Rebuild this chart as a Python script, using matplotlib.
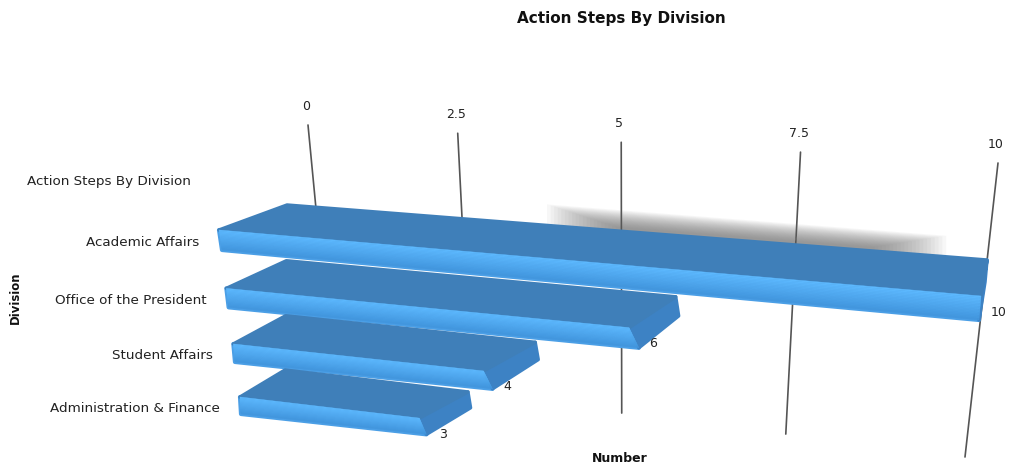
import numpy as np
import matplotlib
matplotlib.use("Agg")
import matplotlib.pyplot as plt
from matplotlib.patches import Polygon

title = "Action Steps By Division"
x_label = "Number"
y_label = "Division"
categories = ["Academic Affairs", "Office of the President", "Student Affairs", "Administration & Finance"]
values = [10, 6, 4, 3]
empty_category = "Action Steps By Division"
ticks = [0, 2.5, 5, 7.5, 10]
tick_labels = ["0", "2.5", "5", "7.5", "10"]
grid_visible_to = [0.40, 0.35, 1, 1, 1]

FONT = "DejaVu Sans"
W, H = 1009, 466


def homography(dst, src=((0, 0), (10, 0), (0, 3), (10, 3))):
    A, b = [], []
    for (u, v), (x, y) in zip(src, dst):
        A.append([u, v, 1, 0, 0, 0, -u * x, -v * x]); b.append(x)
        A.append([0, 0, 0, u, v, 1, -u * y, -v * y]); b.append(y)
    h = np.linalg.solve(np.array(A, float), np.array(b, float))
    M = np.append(h, 1).reshape(3, 3)

    def project(u, v):
        p = M @ np.array([u, v, 1.0])
        return np.array([p[0] / p[2], p[1] / p[2]])
    return project


def depth(v, b=-0.0098):
    """Extra perspective foreshortening along the value axis of the near edge."""
    return (1 + 10 * b) * v / (1 + b * v)


# camera planes of the pseudo-3D scene (value, row) -> pixels
back_top = homography(((287, 205), (987, 260), (285, 370), (968, 452)))
back_bot = homography(((287, 224), (985, 282), (285, 386), (966, 466)))
_front_top = homography(((219, 230), (981, 296), (240, 397), (945, 480)))
_front_bot = homography(((222, 250), (979, 320), (241, 414), (942, 491)))
front_top = lambda v, r: _front_top(depth(v), r)
front_bot = lambda v, r: _front_bot(depth(v), r)
grid = homography(((308, 125), (998, 163), (332, 376), (965, 457)),
                  src=((0, 0), (10, 0), (0, 1), (10, 1)))

fig = plt.figure(figsize=(W / 100, H / 100), dpi=100)
ax = fig.add_axes([0, 0, 1, 1])
ax.set_xlim(0, W)
ax.set_ylim(H, 0)
ax.axis("off")

# grid lines and tick labels
for t, lab, vis in zip(ticks, tick_labels, grid_visible_to):
    a, b = grid(t, 0), grid(t, vis)
    ax.plot([a[0], b[0]], [a[1], b[1]], color="#555555", lw=1.2, zorder=1,
            solid_capstyle="round")
    ax.text(a[0] - 2, a[1] - 19, lab, ha="center", va="center", fontsize=9,
            family=FONT, color="#222222", zorder=5)

# soft shadow behind the longest bar
n_sh = 20
for i in range(n_sh):
    f = i / (n_sh - 1)
    v0, v1 = 4.1 + 1.0 * f, 9.5 - 0.9 * f
    up = -21 + 17 * f
    a = back_top(v0, 0) + np.array([0, up])
    b = back_top(v1, 0) + np.array([0, up])
    c = back_top(v1, 0) + np.array([0, 12])
    d = back_top(v0, 0) + np.array([0, 12])
    ax.add_patch(Polygon([a, b, c, d], closed=True, fc="#6a6a6a", ec="none", alpha=0.05, zorder=2))

# bars, back to front
for r, (cat, val) in enumerate(zip(categories, values)):
    z = 3 + r * 0.1
    tl, tr = back_top(0, r), back_top(val, r)
    fl, fr = front_top(0, r), front_top(val, r)
    bl, br = front_bot(0, r), front_bot(val, r)
    er = back_bot(val, r)
    ax.add_patch(Polygon([fl, fr, br, bl], closed=True, fc="#4b9fe6", ec="#4b9fe6", lw=3.0,
                         joinstyle="round", zorder=z))
    ax.add_patch(Polygon([tr, er, br, fr], closed=True, fc="#3d82c4", ec="#3d82c4", lw=2.5,
                         joinstyle="round", zorder=z + 0.005))
    ax.add_patch(Polygon([tl, tr, fr, fl], closed=True, fc="#3f7fb9", ec="#3f7fb9", lw=2.5,
                         joinstyle="round", zorder=z + 0.01))
    n = 16
    light, dark = np.array([0x5d, 0xb9, 0xff]) / 255, np.array([0x40, 0x94, 0xdc]) / 255
    for i in range(n):
        s0, s1 = i / n, (i + 1) / n
        col = light + (dark - light) * s0
        ax.add_patch(Polygon([fl + (bl - fl) * s0, fr + (br - fr) * s0,
                              fr + (br - fr) * s1, fl + (bl - fl) * s1],
                             closed=True, fc=col, ec=col, lw=0.3, zorder=z + 0.02))
    ax.text(fl[0] - 20, fl[1] + 12, cat, ha="right", va="center", fontsize=9.7,
            family=FONT, color="#222222", zorder=6)
    ax.text(min(fr[0] + 24, W - 10), fr[1] + 16, str(val), ha="center", va="center", fontsize=9,
            family=FONT, color="#222222", zorder=6)

p = front_top(0, -1)
ax.text(p[0] - 20, p[1] + 13, empty_category, ha="right", va="center", fontsize=9.7,
        family=FONT, color="#222222")

ax.text(621, 18, title, ha="center", va="center", fontsize=11, fontweight="bold",
        family=FONT, color="#111111")
ax.text(620, 459, x_label, ha="center", va="center", fontsize=9, fontweight="bold",
        family=FONT, color="#111111")
ax.text(15, 298, y_label, ha="center", va="center", rotation=90, fontsize=8.4, fontweight="bold",
        family=FONT, color="#111111")

fig.savefig("out.png", dpi=100)
